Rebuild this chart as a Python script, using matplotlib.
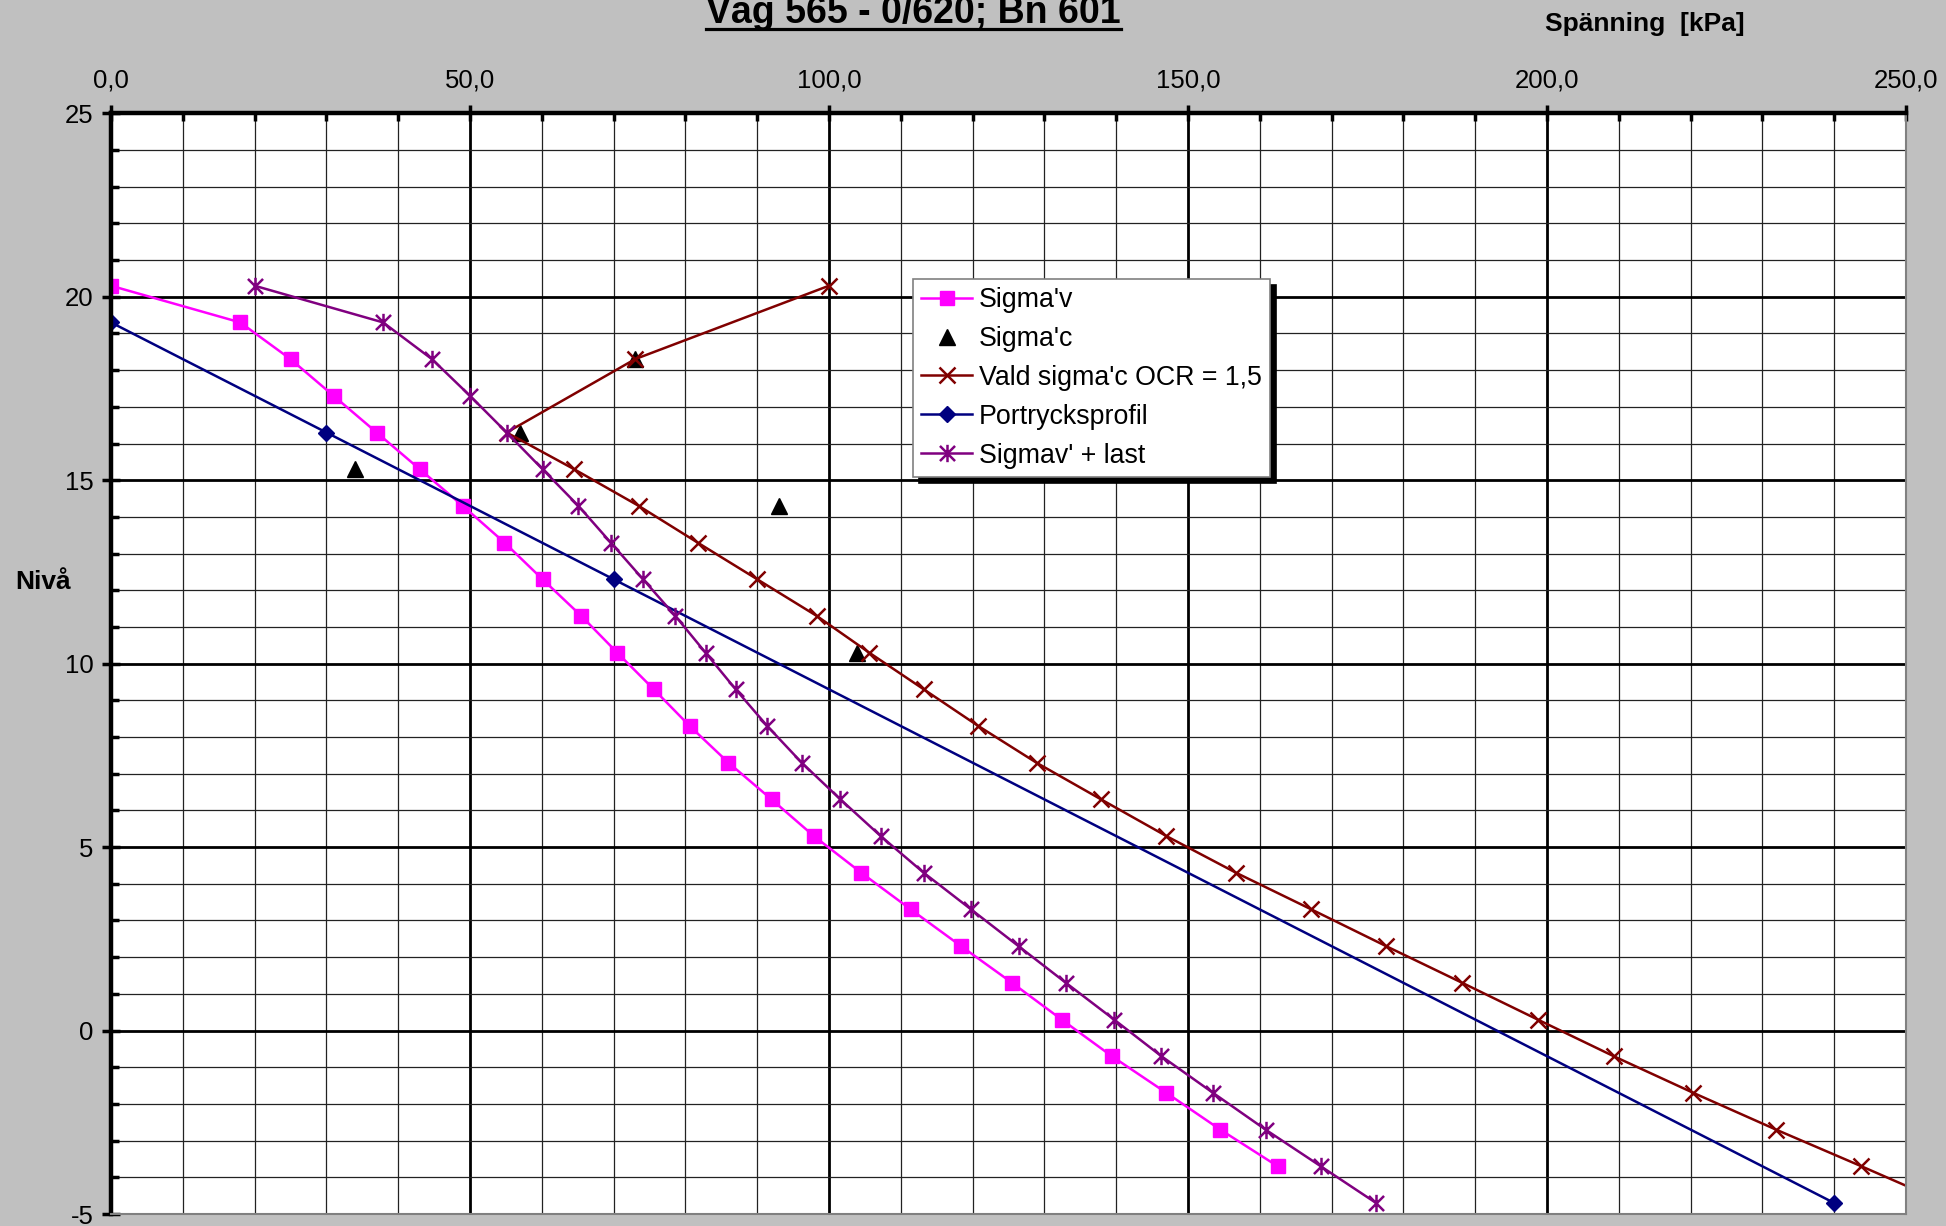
import matplotlib
matplotlib.use('Agg')
import matplotlib.pyplot as plt
from matplotlib.path import Path
from matplotlib.ticker import MultipleLocator, FuncFormatter
import matplotlib.lines as mlines

plt.rcParams['font.family'] = ['Liberation Sans', 'DejaVu Sans']
plt.rcParams['axes.unicode_minus'] = False

# ---------------- data ----------------
title = "Väg 565 - 0/620; Bn 601"
xlabel = "Spänning  [kPa]"
ylabel = "Nivå"

# Sigma'v
sv_level = [20.3, 19.3, 18.3, 17.3, 16.3, 15.3, 14.3, 13.3, 12.3, 11.3, 10.3, 9.3, 8.3,
            7.3, 6.3, 5.3, 4.3, 3.3, 2.3, 1.3, 0.3, -0.7, -1.7, -2.7, -3.7]
sv_value = [0.0, 18.0, 25.0, 31.0, 37.0, 43.0, 49.0, 54.8, 60.1, 65.5, 70.5, 75.6, 80.6,
            86.0, 92.0, 97.9, 104.5, 111.4, 118.4, 125.5, 132.4, 139.4, 147.0, 154.5, 162.5]

# Sigma'c (measured)
sc_level = [18.3, 16.3, 15.3, 14.3, 10.3]
sc_value = [73.0, 57.0, 34.0, 93.0, 103.9]

# Vald sigma'c OCR = 1,5
vald_level = [20.3, 18.3, 16.3, 15.3, 14.3, 13.3, 12.3, 11.3, 10.3, 9.3, 8.3, 7.3, 6.3,
              5.3, 4.3, 3.3, 2.3, 1.3, 0.3, -0.7, -1.7, -2.7, -3.7, -4.7]
vald_value = [100.0, 73.0, 55.1, 64.5, 73.5, 81.7, 90.0, 98.3, 105.6, 113.2, 120.8, 128.9,
              137.9, 147.0, 156.7, 167.2, 177.6, 188.2, 198.7, 209.3, 220.4, 231.9, 243.8, 255.5]

# Portrycksprofil
u_level = [19.3, 16.3, 12.3, -4.7]
u_value = [0.0, 30.0, 70.0, 240.0]

# Sigmav' + last
sl_level = [20.3, 19.3, 18.3, 17.3, 16.3, 15.3, 14.3, 13.3, 12.3, 11.3, 10.3, 9.3, 8.3,
            7.3, 6.3, 5.3, 4.3, 3.3, 2.3, 1.3, 0.3, -0.7, -1.7, -2.7, -3.7, -4.7]
sl_value = [20.0, 37.9, 44.7, 50.0, 55.1, 60.1, 65.1, 69.6, 74.1, 78.6, 82.8, 87.0, 91.4,
            96.2, 101.6, 107.2, 113.2, 119.8, 126.4, 133.0, 139.7, 146.3, 153.5, 160.8,
            168.5, 176.2]

labels = ["Sigma'v", "Sigma'c", "Vald sigma'c OCR = 1,5", "Portrycksprofil", "Sigmav' + last"]

# ---------------- figure ----------------
W, H = 1946, 1226
fig = plt.figure(figsize=(W / 100, H / 100), dpi=100, facecolor='#C0C0C0')
L, R, T, B = 111, 1906, 113.3, 1214
ax = fig.add_axes([L / W, 1 - B / H, (R - L) / W, (B - T) / H])
ax.set_facecolor('white')
ax.set_xlim(0, 250)
ax.set_ylim(-5, 25)

ax.xaxis.set_major_locator(MultipleLocator(50))
ax.xaxis.set_minor_locator(MultipleLocator(10))
ax.yaxis.set_major_locator(MultipleLocator(5))
ax.yaxis.set_minor_locator(MultipleLocator(1))
ax.xaxis.set_major_formatter(FuncFormatter(lambda v, p: f"{v:.1f}".replace('.', ',')))
ax.yaxis.set_major_formatter(FuncFormatter(lambda v, p: f"{int(round(v))}"))

ax.set_axisbelow(True)
ax.grid(which='major', color='black', linewidth=2.0)
ax.grid(which='minor', color='#222222', linewidth=0.9)

ax.xaxis.tick_top()
ax.tick_params(axis='x', which='major', direction='inout', length=12, width=2.5,
               labelsize=18.5, pad=9)
ax.tick_params(axis='x', which='minor', direction='in', length=6, width=2.5)
ax.tick_params(axis='y', which='major', direction='inout', length=13, width=2.5,
               labelsize=18.5, pad=6)
ax.tick_params(axis='y', which='minor', direction='in', length=6, width=2.5)

for s in ['left', 'top']:
    ax.spines[s].set_linewidth(3.2)
    ax.spines[s].set_color('black')
for s in ['right', 'bottom']:
    ax.spines[s].set_linewidth(1.5)
    ax.spines[s].set_color('#808080')

# asterisk marker (X with vertical stroke)
ast = Path([(-1, -1), (1, 1), (-1, 1), (1, -1), (0, -1.15), (0, 1.15)],
           [Path.MOVETO, Path.LINETO] * 3)

lw = 1.8
ax.plot(sv_value, sv_level, color='#FF00FF', lw=lw, marker='s', ms=10.5,
        mfc='#FF00FF', mec='#FF00FF', label=labels[0])
ax.plot(sc_value, sc_level, linestyle='none', marker='^', ms=11, color='black',
        label=labels[1])
ax.plot(vald_value, vald_level, color='#800000', lw=lw, marker='x', ms=12, mew=1.8,
        label=labels[2])
ax.plot(u_value, u_level, color='#000080', lw=lw, marker='D', ms=8.5,
        mfc='#000080', mec='#000080', label=labels[3])
ax.plot(sl_value, sl_level, color='#800080', lw=lw, marker=ast, ms=12.5, mew=1.8,
        label=labels[4])

leg = ax.legend(loc='upper left', bbox_to_anchor=((913 - L) / (R - L), (B - 279) / (B - T)),
                fontsize=19.3, frameon=True, fancybox=False,
                shadow={'ox': 4.3, 'oy': -4.3, 'facecolor': 'black',
                        'edgecolor': 'black', 'alpha': 1},
                borderpad=0.3, labelspacing=0.48, handlelength=1.9,
                handletextpad=0.25, borderaxespad=0)
fr = leg.get_frame()
fr.set_edgecolor('#808080')
fr.set_linewidth(1.2)
fr.set_alpha(1)

# texts
t = fig.text(913.5 / W, 1 - 23 / H, title, ha='center', va='baseline',
             fontsize=27, fontweight='bold')
fig.text(1545 / W, 1 - 31 / H, xlabel, ha='left', va='baseline',
         fontsize=19, fontweight='bold')
fig.text(15 / W, 1 - 582 / H, ylabel, ha='left', va='center',
         fontsize=19, fontweight='bold')

# underline the title
fig.canvas.draw()
bb = t.get_window_extent()
uy = H - 28.5
fig.add_artist(mlines.Line2D([bb.x0 / W, bb.x1 / W], [uy / H, uy / H],
                             transform=fig.transFigure, color='black', lw=2.3))

fig.savefig('out.png', dpi=100, facecolor=fig.get_facecolor())
